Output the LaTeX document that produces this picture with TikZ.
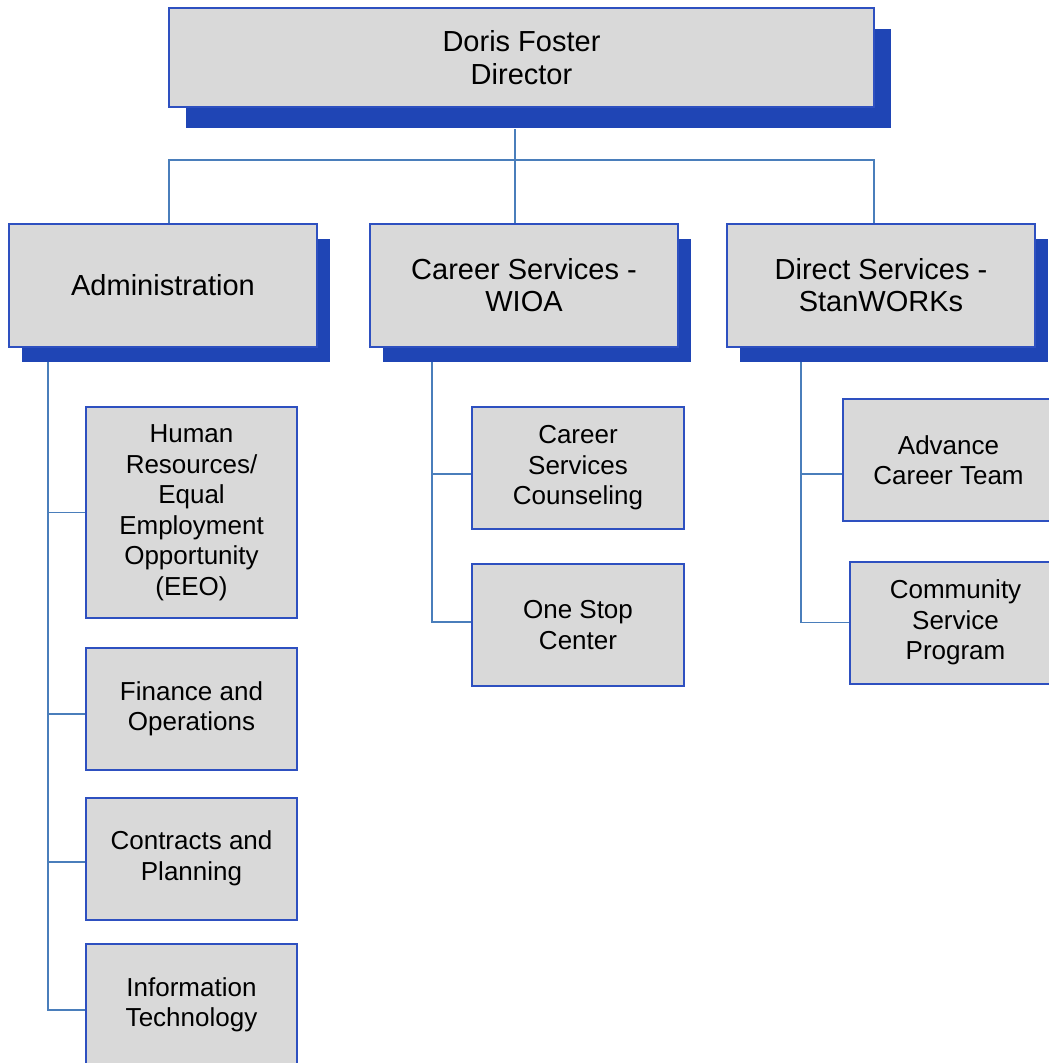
\documentclass[tikz,border=0pt]{standalone}
\usepackage{fontspec}
\setmainfont{Liberation Sans}
\usetikzlibrary{shadows}
\definecolor{boxfill}{RGB}{217,217,217}
\definecolor{boxline}{RGB}{46,80,192}
\definecolor{shadowblue}{RGB}{31,69,181}
\definecolor{connblue}{RGB}{74,126,187}
\tikzset{
  topbox/.style={draw=boxline, line width=1.2pt, fill=boxfill, align=center,
    minimum width=705pt, minimum height=99pt, inner sep=0pt,
    font=\fontsize{29}{33}\selectfont,
    general shadow={fill=shadowblue, shadow xshift=17pt, shadow yshift=-21pt}},
  midbox/.style={draw=boxline, line width=1.2pt, fill=boxfill, align=center,
    minimum width=308pt, minimum height=123pt, inner sep=0pt,
    font=\fontsize{29}{32}\selectfont,
    general shadow={fill=shadowblue, shadow xshift=13pt, shadow yshift=-15pt}},
  childbox/.style={draw=boxline, line width=2pt, fill=boxfill, align=center,
    minimum width=211pt, minimum height=122pt, inner sep=0pt,
    font=\fontsize{26}{30.5}\selectfont},
  conn/.style={draw=connblue, line width=1.5pt}
}
\begin{document}
\begin{tikzpicture}[x=1pt,y=-1pt]
\useasboundingbox (0,0) rectangle (1049,1063);
\clip (0,0) rectangle (1049,1063);
% top
\node[topbox] (top) at (521.5,57.5) {Doris Foster\\Director};
% level 2
\node[midbox] (adm) at (163,285.5) {Administration};
\node[midbox] (car) at (524,285.5) {Career Services -\\WIOA};
\node[midbox] (dir) at (881,285.5) {Direct Services -\\StanWORKs};
% connectors from top
\coordinate (tj) at (515,129);
\coordinate (hj) at (515,160);
\draw[conn] (tj) -- (hj);
\draw[conn] (adm.north -| 169,0) |- (hj) -| (dir.north -| 874,0);
\draw[conn] (hj) -- (car.north -| 515,0);
% admin children
\node[childbox, minimum height=211pt] (hr) at (191.5,512.5) {Human\\Resources/\\Equal\\Employment\\Opportunity\\(EEO)};
\node[childbox] (fin) at (191.5,709) {Finance and\\Operations};
\node[childbox] (con) at (191.5,858.5) {Contracts and\\Planning};
\node[childbox] (it) at (191.5,1005) {Information\\Technology};
\coordinate (as) at (48,362);
\draw[conn] (as) |- ([yshift=-5pt]it.west);
\draw[conn] (as |- hr.west) -- (hr.west);
\draw[conn] (as |- fin.west) ++(0,5) -- ([yshift=-5pt]fin.west);
\draw[conn] (as |- con.west) ++(0,3.5) -- ([yshift=-3.5pt]con.west);
% career children
\node[childbox, minimum width=212pt] (csc) at (578,468) {Career\\Services\\Counseling};
\node[childbox, minimum width=212pt] (osc) at (578,625) {One Stop\\Center};
\coordinate (cs) at (432,362);
\draw[conn] (cs) |- ([yshift=3pt]osc.west);
\draw[conn] (cs |- csc.west) ++(0,6) -- ([yshift=-6pt]csc.west);
% direct children
\node[childbox] (act) at (948.5,460) {Advance\\Career Team};
\node[childbox] (csp) at (955.5,622.5) {Community\\Service\\Program};
\coordinate (ds) at (801,362);
\draw[conn] (ds) |- (csp.west);
\draw[conn] (ds |- act.west) ++(0,14) -- ([yshift=-14pt]act.west);
\end{tikzpicture}
\end{document}
